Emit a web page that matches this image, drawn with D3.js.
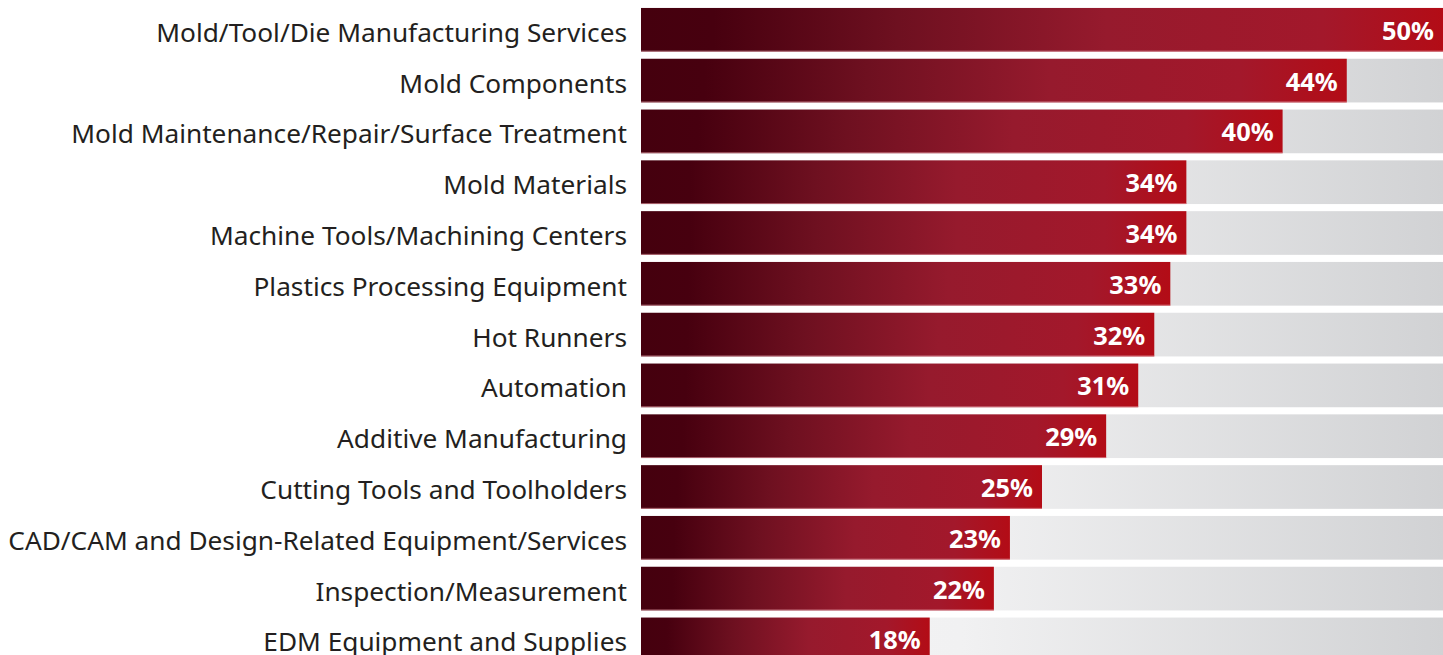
<!DOCTYPE html>
<html>
<head>
<meta charset="utf-8">
<script src="https://cdn.jsdelivr.net/npm/d3@7"></script>
<style>
  body { margin: 0; background: #fff; }
  svg { display: block; }
</style>
</head>
<body>
<svg width="1443" height="655"></svg>
<script>
// survey answers, top to bottom
var categories = [
  "Mold/Tool/Die Manufacturing Services",
  "Mold Components",
  "Mold Maintenance/Repair/Surface Treatment",
  "Mold Materials",
  "Machine Tools/Machining Centers",
  "Plastics Processing Equipment",
  "Hot Runners",
  "Automation",
  "Additive Manufacturing",
  "Cutting Tools and Toolholders",
  "CAD/CAM and Design-Related Equipment/Services",
  "Inspection/Measurement",
  "EDM Equipment and Supplies"
];
var values = [50, 44, 40, 34, 34, 33, 32, 31, 29, 25, 23, 22, 18];
var maxValue = 50;

var svg = d3.select("svg");
var defs = svg.append("defs");
var font = "'Noto Sans', 'Open Sans', sans-serif";

var red = defs.append("linearGradient").attr("id", "redGrad")
  .attr("x1", "0%").attr("x2", "100%").attr("y1", "0%").attr("y2", "0%");
red.append("stop").attr("offset", "0%").attr("stop-color", "#45000e");
red.append("stop").attr("offset", "9%").attr("stop-color", "#47000f");
red.append("stop").attr("offset", "32%").attr("stop-color", "#6e1020");
red.append("stop").attr("offset", "58%").attr("stop-color", "#961a2d");
red.append("stop").attr("offset", "85%").attr("stop-color", "#a3182b");
red.append("stop").attr("offset", "100%").attr("stop-color", "#b30c16");

var grey = defs.append("linearGradient").attr("id", "greyGrad")
  .attr("x1", "0%").attr("x2", "100%").attr("y1", "0%").attr("y2", "0%");
grey.append("stop").attr("offset", "0%").attr("stop-color", "#f4f4f5");
grey.append("stop").attr("offset", "40%").attr("stop-color", "#f1f1f2");
grey.append("stop").attr("offset", "100%").attr("stop-color", "#d1d2d4");

var x = d3.scaleLinear().domain([0, maxValue]).range([641, 1443]);
var y = d3.scaleBand().domain(categories).range([4.4, 4.4 + 13 * 50.8])
  .paddingInner(0.14).paddingOuter(0.07);

// fit font sizes so the widths match the picture
function fitSize(txt, weight, target) {
  var t = svg.append("text").attr("font-family", font).attr("font-weight", weight)
    .attr("font-size", "20px").text(txt);
  var w = t.node().getComputedTextLength();
  t.remove();
  return 20 * target / w;
}
var labelSize = fitSize(categories[10], "normal", 619);
var valueSize = fitSize("50%", "bold", 52);

var rows = svg.selectAll("g.row")
  .data(categories)
  .enter().append("g")
  .attr("class", "row");

// grey track
rows.append("rect")
  .attr("x", x(0))
  .attr("y", d => y(d))
  .attr("width", x(maxValue) - x(0))
  .attr("height", y.bandwidth())
  .attr("fill", "url(#greyGrad)");

// red bar
rows.append("rect")
  .attr("x", x(0))
  .attr("y", d => y(d))
  .attr("width", (d, i) => x(values[i]) - x(0))
  .attr("height", y.bandwidth())
  .attr("fill", "url(#redGrad)");

// thin light edge under red bar
rows.append("rect")
  .attr("x", x(0))
  .attr("y", d => y(d) + y.bandwidth() - 1)
  .attr("width", (d, i) => x(values[i]) - x(0))
  .attr("height", 1)
  .attr("fill", "#e8a0a8")
  .attr("opacity", 0.6);

// category labels
rows.append("text")
  .attr("x", 627)
  .attr("y", d => y(d) + y.bandwidth() / 2 + 5)
  .attr("text-anchor", "end")
  .attr("dominant-baseline", "middle")
  .attr("font-family", font)
  .attr("font-size", labelSize + "px")
  .attr("fill", "#231f20")
  .text(d => d);

// value labels
rows.append("text")
  .attr("x", (d, i) => x(values[i]) - 9)
  .attr("y", d => y(d) + y.bandwidth() / 2 + 3)
  .attr("text-anchor", "end")
  .attr("dominant-baseline", "middle")
  .attr("font-family", font)
  .attr("font-weight", "bold")
  .attr("font-size", valueSize + "px")
  .attr("fill", "#ffffff")
  .text((d, i) => values[i] + "%");
</script>
</body>
</html>
